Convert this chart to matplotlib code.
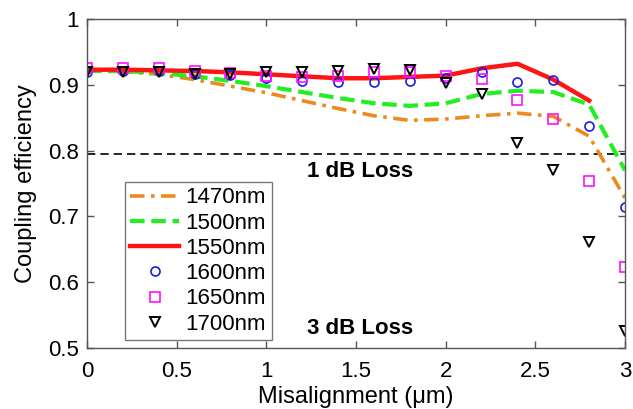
import numpy as np
import matplotlib
matplotlib.use("Agg")
import matplotlib.pyplot as plt

plt.rcParams['font.family'] = ['Liberation Sans', 'DejaVu Sans']

#misalignment positions (um)
x = [0, 0.2, 0.4, 0.6, 0.8, 1.0, 1.2, 1.4, 1.6, 1.8, 2.0, 2.2, 2.4, 2.6, 2.8, 3.0]

#simulated curves
y1470 = [0.921, 0.920, 0.916, 0.908, 0.898, 0.888, 0.876, 0.864, 0.853, 0.846, 0.848, 0.853, 0.857, 0.852, 0.822, 0.728]
y1500 = [0.921, 0.921, 0.918, 0.913, 0.906, 0.898, 0.889, 0.880, 0.872, 0.868, 0.872, 0.886, 0.891, 0.889, 0.870, 0.770]
x1550 = x[:-1]
y1550 = [0.923, 0.923, 0.922, 0.921, 0.919, 0.916, 0.913, 0.910, 0.910, 0.912, 0.914, 0.925, 0.932, 0.908, 0.876]

#marker series
y1600 = [0.920, 0.921, 0.921, 0.917, 0.915, 0.910, 0.906, 0.905, 0.904, 0.906, 0.910, 0.920, 0.905, 0.907, 0.837, 0.715]
y1650 = [0.926, 0.925, 0.925, 0.921, 0.918, 0.914, 0.912, 0.914, 0.919, 0.920, 0.913, 0.909, 0.877, 0.848, 0.754, 0.623]
y1700 = [0.920, 0.920, 0.920, 0.917, 0.917, 0.919, 0.919, 0.921, 0.924, 0.922, 0.903, 0.886, 0.811, 0.770, 0.661, 0.526]

loss_1db = 10 ** (-0.1)

fig = plt.figure(figsize=(6.33, 4.09), dpi=100)
ax = fig.add_axes([0.1374, 0.149, 0.8500, 0.8045])

ax.axhline(loss_1db, color='black', linestyle=(0, (5, 3)), linewidth=1.2, zorder=1)

ax.plot(x, y1470, color='#EC8A1E', linewidth=2.6, linestyle=(0, (4, 1.8, 1, 1.8)), label='1470nm')
ax.plot(x, y1500, color='#22EE22', linewidth=3, linestyle=(0, (3.5, 1.6)), label='1500nm')
ax.plot(x1550, y1550, color='#FF1414', linewidth=3.2, label='1550nm')
ax.plot(x, y1600, linestyle='none', marker='o', markersize=6.5, markerfacecolor='none',
        markeredgecolor='#1A1AE6', markeredgewidth=1.2, label='1600nm')
ax.plot(x, y1650, linestyle='none', marker='s', markersize=7, markerfacecolor='none',
        markeredgecolor='#FF10FF', markeredgewidth=1.2, label='1650nm')
ax.plot(x, y1700, linestyle='none', marker='v', markersize=7.5, markerfacecolor='none',
        markeredgecolor='black', markeredgewidth=1.4, label='1700nm')

ax.text(1.52, 0.768, '1 dB Loss', fontsize=16, fontweight='bold', ha='center', va='center')
ax.text(1.52, 0.530, '3 dB Loss', fontsize=16, fontweight='bold', ha='center', va='center')

ax.set_xlim(0, 3)
ax.set_ylim(0.5, 1)
ax.set_xticks([0, 0.5, 1, 1.5, 2, 2.5, 3])
ax.set_xticklabels(['0', '0.5', '1', '1.5', '2', '2.5', '3'])
ax.set_yticks([0.5, 0.6, 0.7, 0.8, 0.9, 1])
ax.set_yticklabels(['0.5', '0.6', '0.7', '0.8', '0.9', '1'])
ax.tick_params(direction='in', top=True, right=True, length=5, width=1, color='#555555',
               labelsize=16)
ax.tick_params(axis='x', pad=9)
ax.tick_params(axis='y', pad=6)
for s in ax.spines.values():
    s.set_color('#555555')
    s.set_linewidth(1)

ax.set_xlabel('Misalignment (\u03bcm)', fontsize=17, labelpad=3)
ax.set_ylabel('Coupling efficiency', fontsize=17, labelpad=8)

leg = ax.legend(loc='lower left', bbox_to_anchor=(0.07, 0.024), fontsize=16, frameon=True,
                fancybox=False, edgecolor='#555555', handlelength=2.2, handletextpad=0.3,
                borderpad=0.25, labelspacing=0.19, borderaxespad=0)
leg.get_frame().set_linewidth(1)

fig.savefig('out.png', dpi=100)
